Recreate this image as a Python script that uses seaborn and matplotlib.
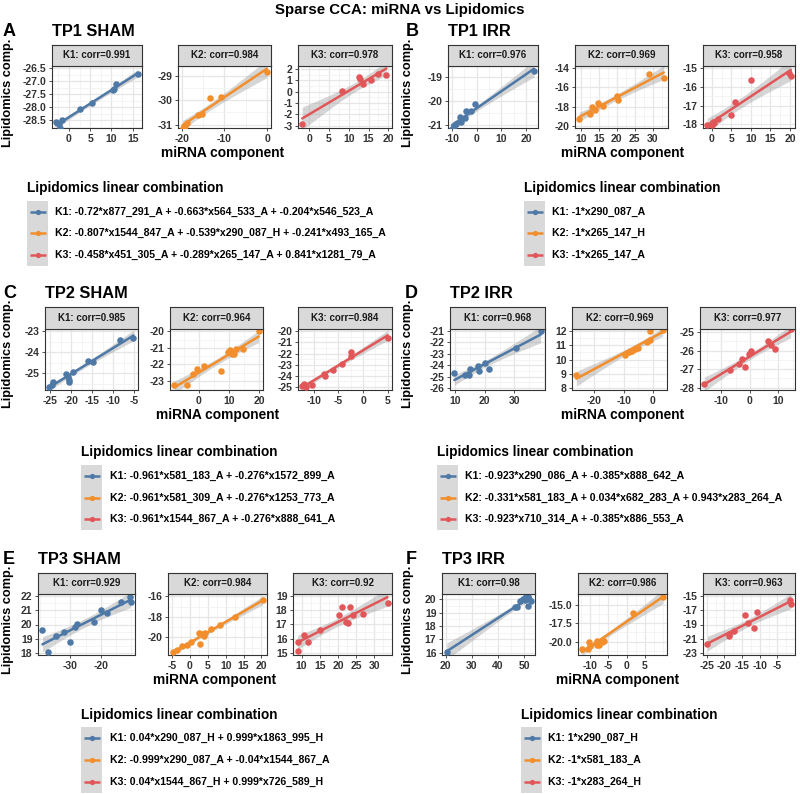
import numpy as np
import pandas as pd
import matplotlib
matplotlib.use('Agg')
import matplotlib.pyplot as plt
import seaborn as sns
from matplotlib.patches import Rectangle

sns.set_theme(style='white')
plt.rcParams['font.family'] = ['Liberation Sans', 'DejaVu Sans']

# ---------------- data ----------------
comp_labels = ['K1', 'K2', 'K3']
comp_colors = ['#4E79A7', '#F28E2B', '#E15759']

# A: TP1 SHAM
A_corr = [0.991, 0.984, 0.978]
A_K1_x = [-3.0, -2.3, -2.1, -1.6, 2.6, 5.4, 10.4, 10.6, 11.1, 16.2]
A_K1_y = [-28.55, -28.65, -28.78, -28.5, -28.05, -27.85, -27.35, -27.3, -27.1, -26.7]
A_K2_x = [-19.8, -19.3, -18.7, -16.2, -15.3, -13.3, -10.8, -0.1]
A_K2_y = [-31.12, -31.05, -30.95, -30.6, -30.55, -29.92, -29.88, -28.85]
A_K3_x = [-1.8, 8.2, 12.5, 12.9, 13.7, 15.7, 17.5, 19.5]
A_K3_y = [-2.8, 0.05, 1.25, 1.1, 0.7, 1.0, 1.55, 1.5]

# B: TP1 IRR
B_corr = [0.976, 0.969, 0.958]
B_K1_x = [-10.0, -9.2, -8.5, -6.7, -6.2, -4.6, -4.3, -2.5, -0.9, 23.2]
B_K1_y = [-21.15, -21.05, -20.95, -20.65, -20.85, -20.7, -20.4, -20.4, -20.1, -18.75]
B_K2_x = [9.6, 12.6, 13.0, 14.1, 14.8, 16.1, 20.0, 20.2, 28.8, 33.0]
B_K2_y = [-19.3, -18.8, -18.0, -18.3, -17.6, -17.9, -16.9, -17.3, -14.6, -15.0]
B_K3_x = [-1.2, 0.1, 0.4, 0.6, 1.6, 5.0, 5.8, 10.1, 19.8, 20.2]
B_K3_y = [-18.05, -18.05, -17.85, -17.95, -17.7, -17.5, -16.8, -15.6, -15.25, -15.4]

# C: TP2 SHAM
C_corr = [0.985, 0.964, 0.984]
C_K1_x = [-25.2, -24.6, -24.4, -21.2, -20.8, -20.5, -20.4, -19.6, -16.1, -14.9, -8.3, -5.2]
C_K1_y = [-25.65, -25.56, -25.4, -25.05, -25.2, -25.3, -25.4, -24.93, -24.42, -24.45, -23.4, -23.3]
C_K2_x = [-8.2, -3.9, -1.9, -0.5, 1.8, 7.2, 9.5, 10.3, 10.8, 11.6, 12.4, 14.5, 19.8]
C_K2_y = [-23.24, -23.24, -22.6, -22.26, -22.1, -22.4, -21.27, -21.15, -21.35, -21.4, -21.1, -21.1, -20.0]
C_K3_x = [-12.3, -11.9, -11.5, -10.3, -8.0, -7.7, -6.0, -4.2, -2.5, -2.5, 5.0]
C_K3_y = [-24.9, -24.7, -25.05, -24.8, -23.8, -24.0, -23.5, -22.9, -21.9, -22.2, -20.6]

# D: TP2 IRR
D_corr = [0.968, 0.969, 0.977]
D_K1_x = [9.8, 13.3, 14.7, 15.2, 17.6, 18.2, 20.0, 21.4, 30.4, 38.8]
D_K1_y = [-24.66, -24.9, -24.9, -24.35, -24.1, -24.55, -23.8, -24.35, -22.45, -21.0]
D_K2_x = [-26.1, -9.4, -8.3, -7.2, -6.1, -5.0, -2.2, -1.1, -0.9, 3.3]
D_K2_y = [8.88, 10.33, 10.5, 10.6, 10.75, 10.8, 11.2, 11.4, 12.0, 12.1]
D_K3_x = [-16.0, -7.1, -4.0, -2.9, -1.7, -0.3, 0.3, 6.5, 7.4, 8.8, 14.3]
D_K3_y = [-27.78, -27.07, -26.7, -26.45, -26.9, -26.2, -26.0, -25.5, -25.7, -25.9, -24.82]

# E: TP3 SHAM
E_corr = [0.929, 0.984, 0.92]
E_K1_x = [-39.2, -37.4, -34.7, -32.1, -30.0, -28.4, -27.9, -22.1, -20.0, -17.9, -13.2, -10.5, -10.2]
E_K1_y = [19.6, 18.05, 19.2, 19.45, 18.75, 19.8, 20.05, 20.2, 21.0, 20.8, 21.55, 21.9, 21.6]
E_K2_x = [-4.7, -3.6, -2.1, -0.7, 0.2, 2.5, 2.7, 3.4, 4.0, 4.3, 5.9, 8.4, 12.5, 20.3]
E_K2_y = [-21.4, -21.2, -20.9, -20.8, -20.5, -19.6, -20.7, -19.65, -19.9, -19.55, -19.2, -18.8, -18.0, -16.4]
E_K3_x = [8.9, 8.9, 10.7, 11.8, 15.2, 20.2, 21.1, 22.3, 22.7, 23.4, 24.1, 26.8, 33.6]
E_K3_y = [15.15, 15.75, 16.25, 15.8, 16.6, 17.7, 18.2, 17.2, 17.1, 18.2, 17.7, 17.75, 18.5]

# F: TP3 IRR
F_corr = [0.98, 0.986, 0.963]
F_K1_x = [20.4, 46.5, 47.2, 48.3, 49.5, 50.2, 50.6, 51.0, 51.3, 51.8, 52.5]
F_K1_y = [16.05, 19.4, 19.45, 19.9, 20.0, 19.95, 20.25, 20.35, 19.5, 20.05, 19.85]
F_K2_x = [-12.1, -10.4, -10.2, -9.9, -8.1, -7.9, -7.6, -6.6, -6.2, 1.8, 9.9]
F_K2_y = [-21.0, -21.0, -20.0, -20.6, -20.4, -19.85, -20.5, -20.05, -19.9, -16.1, -13.9]
F_K3_x = [-24.8, -18.8, -18.6, -17.3, -14.1, -13.2, -11.6, -10.7, -1.4, -1.2]
F_K3_y = [-21.7, -20.6, -20.3, -19.85, -17.7, -18.75, -19.55, -17.2, -15.6, -16.2]

# tick labels (x ticks, y ticks) per facet
A_xticks = [[0, 5, 10, 15], [-20, -10, 0], [0, 5, 10, 15, 20]]
A_yticks = [[-28.5, -28.0, -27.5, -27.0, -26.5], [-31, -30, -29], [-3, -2, -1, 0, 1, 2]]
B_xticks = [[-10, 0, 10, 20], [10, 15, 20, 25, 30], [0, 5, 10, 15, 20]]
B_yticks = [[-21, -20, -19], [-20, -18, -16, -14], [-18, -17, -16, -15]]
C_xticks = [[-25, -20, -15, -10, -5], [0, 10, 20], [-10, -5, 0, 5]]
C_yticks = [[-25, -24, -23], [-23, -22, -21, -20], [-25, -24, -23, -22, -21, -20]]
D_xticks = [[10, 20, 30], [-20, -10, 0], [-10, 0, 10]]
D_yticks = [[-26, -25, -24, -23, -22, -21], [8, 9, 10, 11, 12], [-28, -27, -26, -25]]
E_xticks = [[-30, -20], [-5, 0, 5, 10, 15, 20], [10, 15, 20, 25, 30]]
E_yticks = [[18, 19, 20, 21, 22], [-20, -18, -16], [15, 16, 17, 18, 19]]
F_xticks = [[20, 30, 40, 50], [-10, -5, 0, 5], [-25, -20, -15, -10, -5]]
F_yticks = [[16, 17, 18, 19, 20], [-20.0, -17.5, -15.0], [-23, -21, -19, -17, -15]]

A_legend = ["K1: -0.72*x877_291_A + -0.663*x564_533_A + -0.204*x546_523_A",
            "K2: -0.807*x1544_847_A + -0.539*x290_087_H + -0.241*x493_165_A",
            "K3: -0.458*x451_305_A + -0.289*x265_147_A + 0.841*x1281_79_A"]
B_legend = ["K1: -1*x290_087_A", "K2: -1*x265_147_H", "K3: -1*x265_147_A"]
C_legend = ["K1: -0.961*x581_183_A + -0.276*x1572_899_A",
            "K2: -0.961*x581_309_A + -0.276*x1253_773_A",
            "K3: -0.961*x1544_867_A + -0.276*x888_641_A"]
D_legend = ["K1: -0.923*x290_086_A + -0.385*x888_642_A",
            "K2: -0.331*x581_183_A + 0.034*x682_283_A + 0.943*x283_264_A",
            "K3: -0.923*x710_314_A + -0.385*x886_553_A"]
E_legend = ["K1: 0.04*x290_087_H + 0.999*x1863_995_H",
            "K2: -0.999*x290_087_A + -0.04*x1544_867_A",
            "K3: 0.04*x1544_867_H + 0.999*x726_589_H"]
F_legend = ["K1: 1*x290_087_H", "K2: -1*x581_183_A", "K3: -1*x283_264_H"]

panel_titles = ['TP1 SHAM', 'TP1 IRR', 'TP2 SHAM', 'TP2 IRR', 'TP3 SHAM', 'TP3 IRR']

# ---------------- helpers ----------------
try:
    from scipy.stats import t as _tdist

    def t975(df):
        return float(_tdist.ppf(0.975, df))
except Exception:
    def t975(df):
        z = 1.959964
        g1 = (z**3 + z) / 4
        g2 = (5 * z**5 + 16 * z**3 + 3 * z) / 96
        g3 = (3 * z**7 + 19 * z**5 + 17 * z**3 - 15 * z) / 384
        g4 = (79 * z**9 + 776 * z**7 + 1482 * z**5 - 1920 * z**3 - 945 * z) / 92160
        return z + g1 / df + g2 / df**2 + g3 / df**3 + g4 / df**4


def lm_band(x, y, n=80):
    """95% confidence band of an ordinary least-squares fit (like geom_smooth(method='lm'))."""
    x = np.asarray(x, float)
    y = np.asarray(y, float)
    nobs = len(x)
    b1, b0 = np.polyfit(x, y, 1)
    grid = np.linspace(x.min(), x.max(), n)
    fit = b0 + b1 * grid
    resid = y - (b0 + b1 * x)
    s = np.sqrt((resid ** 2).sum() / (nobs - 2))
    sxx = ((x - x.mean()) ** 2).sum()
    se = s * np.sqrt(1.0 / nobs + (grid - x.mean()) ** 2 / sxx)
    tq = t975(nobs - 2)
    return grid, fit - tq * se, fit + tq * se


def cover(lim, ticks, frac=0.04):
    """Widen limits so that every listed tick is inside, with a small margin."""
    lo, hi = lim
    r = hi - lo
    lo = min(lo, min(ticks) - frac * r)
    hi = max(hi, max(ticks) + frac * r)
    return lo, hi


# ---------------- layout (pixels) ----------------
W, H = 800, 794
fig = plt.figure(figsize=(W / 100, H / 100), dpi=100)
fig.patch.set_facecolor('white')


def px_axes(x0, x1, y0, y1, **kw):
    return fig.add_axes([x0 / W, 1 - y1 / H, (x1 - x0) / W, (y1 - y0) / H], **kw)


ovL = px_axes(0, 400, 0, H, zorder=10)
ovR = px_axes(400, 800, 0, H, zorder=10)
for ov, x0 in ((ovL, 0), (ovR, 400)):
    ov.set_xlim(x0, x0 + 400)
    ov.set_ylim(H, 0)
    ov.axis('off')
    ov.patch.set_alpha(0)

fig.text(0.5, 1 - 10 / H, 'Sparse CCA: miRNA vs Lipidomics', ha='center', va='center',
         fontsize=10.8, fontweight='bold', color='black')

panels = [
    dict(letter='A', ov=ovL, lx=3, strip=(45, 66), pane=(66, 128),
         cols=[(52, 142), (178, 271), (298, 392)], xlab=(223, 153), ylab=(8, 93),
         leg=(27, 188, [212, 233, 255], 55),
         xs=[A_K1_x, A_K2_x, A_K3_x], ys=[A_K1_y, A_K2_y, A_K3_y], corr=A_corr,
         xt=A_xticks, yt=A_yticks, legend=A_legend),
    dict(letter='B', ov=ovR, lx=406, strip=(45, 66), pane=(66, 128),
         cols=[(448, 538), (575, 668), (703, 795)], xlab=(623, 153), ylab=(408, 93),
         leg=(524, 188, [212, 233, 255], 552),
         xs=[B_K1_x, B_K2_x, B_K3_x], ys=[B_K1_y, B_K2_y, B_K3_y], corr=B_corr,
         xt=B_xticks, yt=B_yticks, legend=B_legend),
    dict(letter='C', ov=ovL, lx=3, strip=(307, 329), pane=(329, 390),
         cols=[(45, 138), (170, 263), (298, 392)], xlab=(218, 415), ylab=(8, 354),
         leg=(81, 452, [476, 498, 519], 110),
         xs=[C_K1_x, C_K2_x, C_K3_x], ys=[C_K1_y, C_K2_y, C_K3_y], corr=C_corr,
         xt=C_xticks, yt=C_yticks, legend=C_legend),
    dict(letter='D', ov=ovR, lx=405, strip=(307, 329), pane=(329, 390),
         cols=[(450, 545), (572, 667), (700, 795)], xlab=(623, 415), ylab=(408, 354),
         leg=(437, 452, [476, 498, 519], 465),
         xs=[D_K1_x, D_K2_x, D_K3_x], ys=[D_K1_y, D_K2_y, D_K3_y], corr=D_corr,
         xt=D_xticks, yt=D_yticks, legend=D_legend),
    dict(letter='E', ov=ovL, lx=3, strip=(573, 594), pane=(594, 655),
         cols=[(38, 135), (168, 267), (293, 392)], xlab=(215, 680), ylab=(8, 620),
         leg=(81, 715, [738, 760, 782], 110),
         xs=[E_K1_x, E_K2_x, E_K3_x], ys=[E_K1_y, E_K2_y, E_K3_y], corr=E_corr,
         xt=E_xticks, yt=E_yticks, legend=E_legend),
    dict(letter='F', ov=ovR, lx=406, strip=(573, 594), pane=(594, 655),
         cols=[(442, 535), (578, 667), (703, 795)], xlab=(618, 680), ylab=(408, 620),
         leg=(521, 715, [738, 760, 782], 548),
         xs=[F_K1_x, F_K2_x, F_K3_x], ys=[F_K1_y, F_K2_y, F_K3_y], corr=F_corr,
         xt=F_xticks, yt=F_yticks, legend=F_legend),
]

TICK_COL = '#333333'
BORDER = '#333333'


def fmt(vals):
    if any(abs(v - round(v)) > 1e-9 for v in vals):
        return ['%.1f' % v for v in vals]
    return ['%d' % round(v) for v in vals]


def minor_of(t):
    step = t[1] - t[0]
    return list(np.arange(t[0] - step * 1.5, t[-1] + step * 1.6, step / 2.0))


for pi, P in enumerate(panels):
    ov = P['ov']
    s0, s1 = P['strip']
    p0, p1 = P['pane']
    for k in range(3):
        x0, x1 = P['cols'][k]
        df = pd.DataFrame({'x': P['xs'][k], 'y': P['ys'][k]})
        ax = px_axes(x0, x1, p0, p1)
        ax.set_facecolor('white')
        # confidence band (grey), linear model 95% CI
        gx, lo, hi = lm_band(df['x'], df['y'])
        ax.fill_between(gx, lo, hi, color='#999999', alpha=0.4, lw=0, zorder=2)
        # points and fitted line
        sns.regplot(data=df, x='x', y='y', ax=ax, ci=None, color=comp_colors[k],
                    scatter_kws={'s': 22, 'alpha': 1, 'linewidths': 0, 'zorder': 3},
                    line_kws={'lw': 1.8, 'zorder': 4})
        ax.set_xlabel('')
        ax.set_ylabel('')
        ax.relim()
        ax.autoscale_view()
        xt = P['xt'][k]
        yt = P['yt'][k]
        xl = cover(ax.get_xlim(), xt)
        yl = cover(ax.get_ylim(), yt)
        ax.set_xticks(xt, labels=fmt(xt), fontsize=7.5, fontweight='bold', color=TICK_COL)
        ax.set_yticks(yt, labels=fmt(yt), fontsize=7.5, fontweight='bold', color=TICK_COL)
        ax.set_xticks(minor_of(xt), minor=True)
        ax.set_yticks(minor_of(yt), minor=True)
        ax.set_xlim(xl)
        ax.set_ylim(yl)
        ax.set_axisbelow(True)
        ax.grid(True, which='major', color='#E6E6E6', lw=0.9)
        ax.grid(True, which='minor', color='#F0F0F0', lw=0.5)
        ax.tick_params(which='major', length=2.5, width=0.6, color=TICK_COL, pad=1.5,
                       bottom=True, left=True)
        ax.tick_params(which='minor', length=0)
        for sp in ax.spines.values():
            sp.set_visible(True)
            sp.set_color(BORDER)
            sp.set_linewidth(0.8)
        # strip
        st = px_axes(x0, x1, s0, s1)
        st.set_facecolor('#D9D9D9')
        st.set_xticks([])
        st.set_yticks([])
        for sp in st.spines.values():
            sp.set_visible(True)
            sp.set_color(BORDER)
            sp.set_linewidth(0.8)
        st.text(0.5, 0.5, '%s: corr=%s' % (comp_labels[k], P['corr'][k]), ha='center',
                va='center', fontsize=7, fontweight='bold', color='#1A1A1A',
                transform=st.transAxes)

    # panel letter and title
    ov.text(P['lx'], (s0 - 14), P['letter'], ha='left', va='center', fontsize=13,
            fontweight='bold', color='black')
    ov.text(P['cols'][0][0], (s0 - 14), panel_titles[pi], ha='left', va='center',
            fontsize=11.8, fontweight='bold', color='black')
    # axis titles
    ov.text(P['xlab'][0], P['xlab'][1], 'miRNA component', ha='center', va='center',
            fontsize=9.9, fontweight='bold', color='black')
    ov.text(P['ylab'][0], P['ylab'][1], 'Lipidomics comp.', ha='center', va='center',
            rotation=90, fontsize=9.2, fontweight='bold', color='black')
    # legend
    lx0, ty, rows, tx = P['leg']
    ov.text(lx0, ty, 'Lipidomics linear combination', ha='left', va='center',
            fontsize=9.8, fontweight='bold', color='black', clip_on=True)
    ov.add_patch(Rectangle((lx0, rows[0] - 11), 21, rows[-1] - rows[0] + 22,
                           facecolor='#D9D9D9', edgecolor='none'))
    for k in range(3):
        ov.plot([lx0 + 2.5, lx0 + 18.5], [rows[k], rows[k]], color=comp_colors[k], lw=1.8,
                solid_capstyle='butt')
        ov.plot([lx0 + 10.5], [rows[k]], 'o', color=comp_colors[k], ms=3.8, mew=0)
        ov.text(tx, rows[k], P['legend'][k], ha='left', va='center', fontsize=7.6,
                fontweight='bold', color='black', clip_on=True)

fig.savefig('out.png', dpi=100, facecolor='white')
